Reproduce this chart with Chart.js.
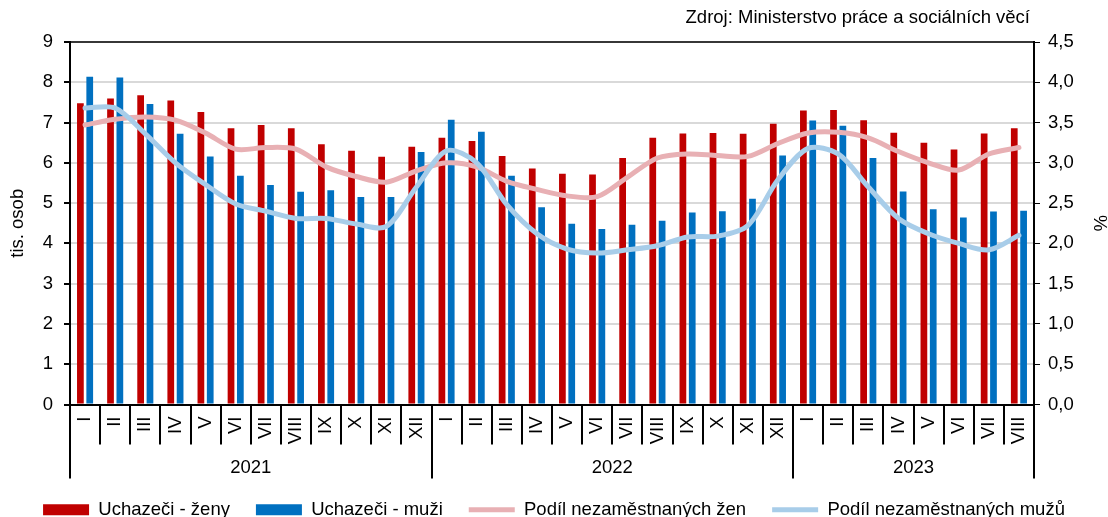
<!DOCTYPE html>
<html lang="cs">
<head>
<meta charset="utf-8">
<title>Uchazeči o zaměstnání</title>
<script src="https://cdn.jsdelivr.net/npm/chart.js@4.4.0/dist/chart.umd.min.js"></script>
<style>
  html, body { margin:0; padding:0; background:#fff; }
  #wrap { width:1108px; height:517px; }
</style>
</head>
<body>
<div id="wrap"><canvas id="c" width="1108" height="517"></canvas></div>
<script>
// ── Data ──────────────────────────────────────────────────────
const months = [
  'I','II','III','IV','V','VI','VII','VIII','IX','X','XI','XII',
  'I','II','III','IV','V','VI','VII','VIII','IX','X','XI','XII',
  'I','II','III','IV','V','VI','VII','VIII'
];
const years       = ['2021','2022','2023'];
const yearLengths = [12, 12, 8];

// tis. osob
const zeny = [7.48,7.60,7.68,7.55,7.26,6.86,6.94,6.86,6.46,6.30,6.15,6.40,
              6.62,6.54,6.17,5.86,5.73,5.71,6.12,6.62,6.73,6.74,6.72,6.97,
              7.30,7.31,7.06,6.75,6.50,6.33,6.73,6.86];
const muzi = [8.14,8.12,7.46,6.72,6.16,5.68,5.45,5.28,5.32,5.15,5.15,6.27,
              7.07,6.77,5.68,4.90,4.49,4.36,4.46,4.56,4.77,4.80,5.11,6.18,
              7.05,6.92,6.12,5.29,4.85,4.64,4.79,4.81];
// %
const podilZen  = [3.47,3.54,3.57,3.53,3.37,3.17,3.19,3.17,2.95,2.83,2.76,2.90,
                   3.00,2.95,2.77,2.67,2.59,2.58,2.82,3.06,3.11,3.09,3.08,3.24,
                   3.37,3.38,3.31,3.14,3.00,2.91,3.11,3.19];
const podilMuzu = [3.68,3.68,3.36,3.00,2.73,2.49,2.40,2.31,2.31,2.24,2.21,2.70,
                   3.15,3.00,2.48,2.12,1.93,1.88,1.92,1.97,2.08,2.09,2.22,2.79,
                   3.18,3.11,2.70,2.31,2.12,2.00,1.92,2.10];

const FONT = '"Liberation Sans", Arial, sans-serif';
const FS = 18.5;
Chart.defaults.font.family = FONT;
Chart.defaults.font.size = FS;
Chart.defaults.color = '#000';

// ── Axis decorations: top frame, month separators, years, source ──
const decor = {
  id:'decor',
  afterDraw(chart) {
    const {ctx, chartArea:a, scales:{x}} = chart;
    const step = x.getPixelForValue(1) - x.getPixelForValue(0);
    const edge = i => x.getPixelForValue(i) - step/2;
    ctx.save();
    ctx.strokeStyle = '#000';
    ctx.lineWidth = 1.5;
    ctx.beginPath(); ctx.moveTo(a.left, a.top); ctx.lineTo(a.right, a.top); ctx.stroke();

    ctx.lineWidth = 2;
    const yearEdges = [0];
    yearLengths.forEach(n => yearEdges.push(yearEdges[yearEdges.length-1] + n));
    for (let i = 0; i <= months.length; i++) {
      const px = Math.round(edge(i));
      const long = yearEdges.includes(i);
      ctx.beginPath();
      ctx.moveTo(px, a.bottom);
      ctx.lineTo(px, a.bottom + (long ? 74 : 40));
      ctx.stroke();
    }
    ctx.font = FS + 'px ' + FONT;
    ctx.fillStyle = '#000';
    ctx.textAlign = 'center';
    ctx.textBaseline = 'middle';
    years.forEach((y, k) => {
      const cx = (edge(yearEdges[k]) + edge(yearEdges[k+1])) / 2;
      ctx.fillText(y, cx, a.bottom + 63);
    });
    ctx.textAlign = 'right';
    ctx.fillText('Zdroj: Ministerstvo práce a sociálních věcí', 1030, 18);
    ctx.restore();
  }
};

new Chart(document.getElementById('c'), {
  type:'bar',
  data:{
    labels: months,
    datasets:[
      { label:'Uchazeči - ženy', data:zeny, backgroundColor:'#C00000', yAxisID:'y', order:2,
        categoryPercentage:0.62, barPercentage:0.72, pointStyle:'rect' },
      { label:'Uchazeči - muži', data:muzi, backgroundColor:'#0070C0', yAxisID:'y', order:2,
        categoryPercentage:0.62, barPercentage:0.72, pointStyle:'rect' },
      { type:'line', label:'Podíl nezaměstnaných žen', data:podilZen, yAxisID:'y1', order:1,
        borderColor:'#E8B0B4', backgroundColor:'#E8B0B4', borderWidth:5, tension:0.3,
        pointRadius:0, borderCapStyle:'round', pointStyle:'line' },
      { type:'line', label:'Podíl nezaměstnaných mužů', data:podilMuzu, yAxisID:'y1', order:0,
        borderColor:'#A8CDE9', backgroundColor:'#A8CDE9', borderWidth:5, tension:0.3,
        pointRadius:0, borderCapStyle:'round', pointStyle:'line' }
    ]
  },
  options:{
    responsive:false, animation:false, devicePixelRatio:1,
    layout:{ padding:{ top:42, left:0, right:0, bottom:-12 } },
    plugins:{
      tooltip:{ enabled:false },
      legend:{
        position:'bottom',
        labels:{
          usePointStyle:true, pointStyleWidth:46, boxHeight:11, padding:26,
          color:'#000', font:{ size:FS },
          sort:(a,b) => a.datasetIndex - b.datasetIndex
        }
      }
    },
    scales:{
      x:{
        grid:{ display:false },
        border:{ display:true, color:'#000', width:2 },
        ticks:{ autoSkip:false, minRotation:90, maxRotation:90, padding:4, font:{ size:FS } },
        afterFit: s => { s.height = 70; }
      },
      y:{
        position:'left', min:0, max:9,
        ticks:{ stepSize:1, padding:11, font:{ size:FS } },
        grid:{ color:'#D9D9D9', lineWidth:2, tickColor:'#000', tickLength:6 },
        border:{ color:'#000', width:2 },
        title:{ display:true, text:'tis. osob', font:{ size:FS, lineHeight:1 }, padding:{ top:9 } },
        afterFit: s => { s.width = 70; }
      },
      y1:{
        position:'right', min:0, max:4.5,
        ticks:{ stepSize:0.5, padding:8, font:{ size:FS },
                callback: v => v.toFixed(1).replace('.', ',') },
        grid:{ drawOnChartArea:false, tickColor:'#000', tickLength:6 },
        border:{ color:'#000', width:2 },
        title:{ display:true, text:'%', font:{ size:FS, lineHeight:1 }, padding:{ top:0 } },
        afterFit: s => { s.width = 74; }
      }
    }
  },
  plugins:[decor]
});
</script>
</body>
</html>
